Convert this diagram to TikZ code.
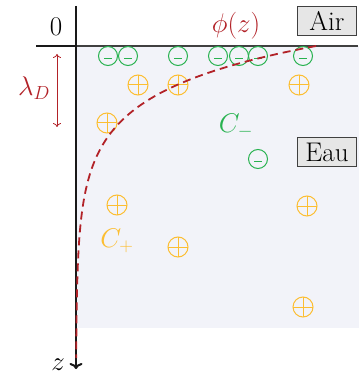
\RequirePackage{fix-cm}
\documentclass[tikz,border=0pt]{standalone}
\usetikzlibrary{arrows.meta}
\definecolor{dred}{RGB}{178,34,40}
\definecolor{cgreen}{RGB}{40,178,80}
\definecolor{corange}{RGB}{252,190,50}
\definecolor{water}{RGB}{242,243,249}
\definecolor{boxfill}{RGB}{230,230,230}
\begin{document}
\begin{tikzpicture}[x=1pt,y=-1pt,
  lbl/.style={inner sep=0pt,font=\fontsize{27}{30}\selectfont},
  labelbox/.style={lbl,draw=black!75,fill=boxfill,line width=1pt,minimum width=59pt,minimum height=29pt},
  negcharge/.style={circle,draw=cgreen,line width=1pt,minimum size=19pt,inner sep=0pt,
    path picture={\draw[cgreen,line width=1pt]
      ([xshift=-4pt,yshift=-2.5pt]path picture bounding box.center) -- ++(8pt,0);}},
  poscharge/.style={circle,draw=corange,line width=1pt,minimum size=20pt,inner sep=0pt,
    path picture={\draw[corange,line width=1pt]
      (path picture bounding box.west) -- (path picture bounding box.east)
      (path picture bounding box.north) -- (path picture bounding box.south);}},
  axisline/.style={line width=2pt,black!90},
]
\useasboundingbox (0,0) rectangle (361,379);
% water region
\fill[water] (76,46) rectangle (359,328);
% coordinates
\coordinate (atop) at (76,6);
\coordinate (abot) at (76,369);
\coordinate (hl) at (36,46);
\coordinate (h0) at (76,46);
\coordinate (hr) at (358,46);
\coordinate (l1) at (57,54);
\coordinate (l2) at (57,127);
% lines
\draw[black!75,line width=1.5pt] (h0) -- (hr);
\draw[line width=2.5pt,black!90] (hl) -- (h0);
\draw[axisline,-{To[length=6pt,width=13pt]}] (atop) -- (abot);
\draw[dred,line width=0.8pt,{To[length=4pt,width=8pt]}-{To[length=4pt,width=8pt]}] (l1) -- (l2);
% charges
\foreach \p [count=\i] in {(108,56),(128,56),(178,56),(218,56),(239,56),(258,56),(303,56),(258,159)}
  \node[negcharge] (n\i) at \p {};
\foreach \p [count=\i] in {(138,85),(178,85),(299,85),(107,123),(117,205),(178,247),(307,206),(303,307)}
  \node[poscharge] (p\i) at \p {};
% potential curve
\draw[dred,line width=1.8pt,dash pattern=on 8pt off 5pt]
  plot[domain=46:358,samples=120] ({76+240*exp(-(\x-46)/45)},\x);
% labels
\node[lbl] (zero) at (56,27) {0};
\node[lbl,text=dred] (lam) at (34,88) {$\lambda_D$};
\node[lbl,text=dred] (phi) at (236,26) {$\phi(z)$};
\node[labelbox] (air) at (327,21) {Air};
\node[labelbox] (eau) at (327,152) {Eau};
\node[lbl,text=cgreen] (cm) at (236,126) {$C_-$};
\node[lbl,text=corange] (cp) at (117,241) {$C_+$};
\node[lbl] (zl) at (58,365) {$z$};
\end{tikzpicture}
\end{document}
